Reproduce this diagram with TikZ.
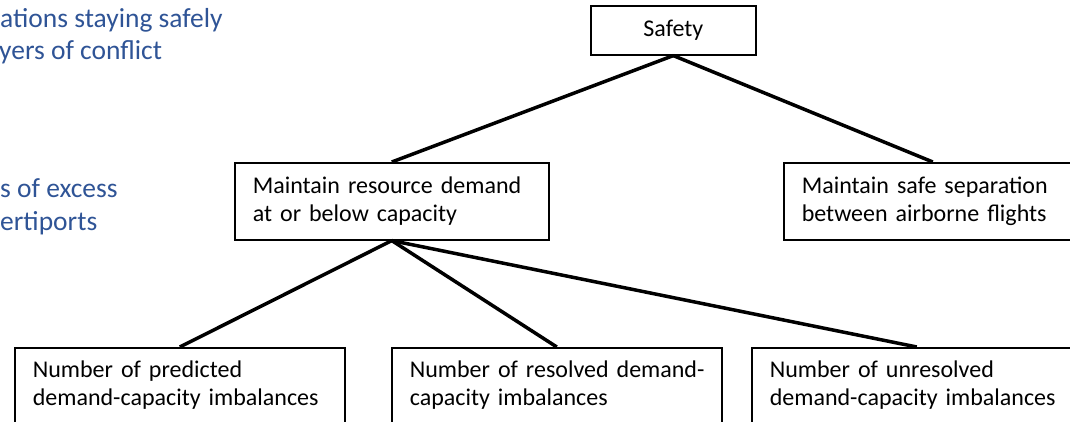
\documentclass[tikz,border=0pt]{standalone}
\usepackage{fontspec}
\setmainfont{Carlito}
\definecolor{titleblue}{RGB}{47,84,150}
\begin{document}
\begin{tikzpicture}[x=1pt,y=1pt,
  box/.style={draw=black, line width=1.6pt, rectangle, inner xsep=18pt,
    font=\fontsize{24}{28}\selectfont, align=left},
  link/.style={line width=3.5pt},
  bluetxt/.style={text=titleblue, font=\fontsize{27.5}{33}\selectfont,
    inner sep=0pt, anchor=base west}]
\useasboundingbox (0,0) rectangle (1070,-422);
\clip (0,0) rectangle (1070,-422);

\node[bluetxt] (b1) at (0,-28) {ations staying safely};
\node[bluetxt] (b2) at (-1,-60) {yers of conflict};
\node[bluetxt] (b3) at (0,-197) {s of excess};
\node[bluetxt] (b4) at (0,-230) {ertiports};

\node[box, align=center, inner xsep=0pt, minimum width=165pt, minimum height=49pt,
  anchor=north west] (safety) at (590,-5) {Safety};
\node[box, text width=278pt, minimum height=77pt, anchor=north west] (res)
  at (234,-162) {Maintain resource demand\\at or below capacity};
\node[box, text width=262pt, minimum height=77pt, anchor=north west] (sep)
  at (783,-162) {Maintain safe separation\\between airborne flights};

\node[box, text width=294pt, inner ysep=13pt, anchor=north west] (pred)
  at (14,-347) {Number of predicted\\demand-capacity imbalances};
\node[box, text width=294pt, inner ysep=13pt, anchor=north west] (resolved)
  at (391,-347) {\mbox{Number of resolved demand-}\\capacity imbalances};
\node[box, text width=294pt, inner ysep=13pt, anchor=north west] (unres)
  at (751,-347) {Number of unresolved\\demand-capacity imbalances};

\draw[link] (safety.south) -- (res.north);
\draw[link] (safety.south) -- (sep.north);
\draw[link] (res.south) -- (pred.north);
\draw[link] (res.south) -- (resolved.north);
\draw[link] (res.south) -- (unres.north);
\end{tikzpicture}
\end{document}
